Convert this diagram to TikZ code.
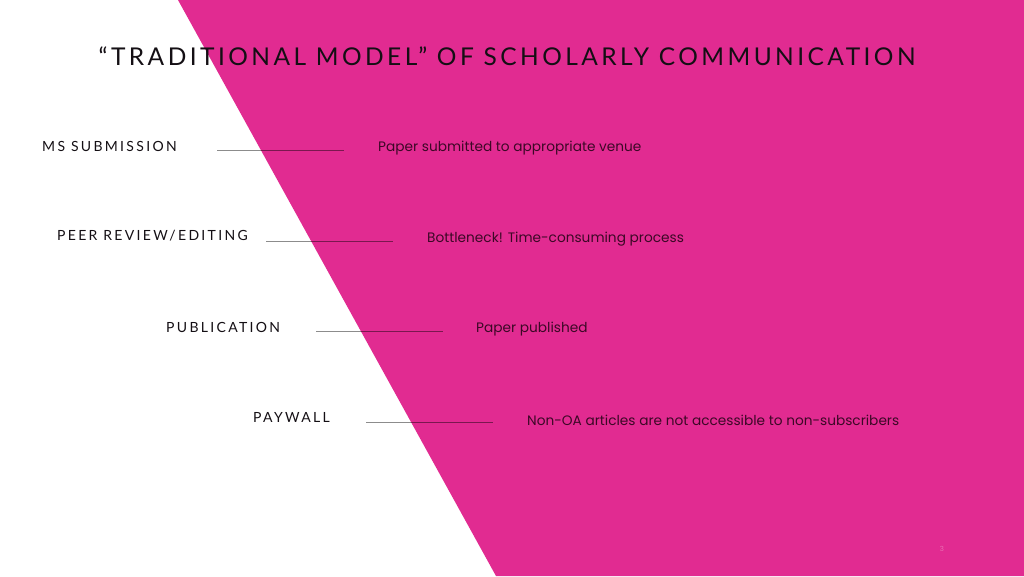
\documentclass[tikz,border=0pt]{standalone}
\usepackage{fontspec}
\setmainfont{Lato}
\newfontfamily\titlefont[LetterSpace=14]{Lato}
\newfontfamily\labelfont[LetterSpace=16.5]{Lato}
\newfontfamily\descfont{Poppins}
\definecolor{magentabg}{RGB}{225,43,145}
\definecolor{titlecol}{RGB}{20,15,20}
\definecolor{desccol}{RGB}{60,8,38}
\definecolor{pagecol}{RGB}{235,110,180}
\tikzset{
  titletext/.style={text=titlecol, font=\titlefont\fontsize{24.5}{28}\selectfont, inner sep=0pt},
  labeltext/.style={text=titlecol, font=\labelfont\fontsize{14}{16}\selectfont, inner sep=0pt, anchor=west},
  desctext/.style={text=desccol, font=\descfont\fontsize{13.7}{16}\selectfont, inner sep=0pt, anchor=west},
  rule/.style={draw=black, draw opacity=0.45, line width=1pt}
}
\begin{document}
\begin{tikzpicture}[x=1pt,y=-1pt]
\useasboundingbox (0,0) rectangle (1024,576);
\fill[white] (0,0) rectangle (1024,576);
\fill[magentabg] (178,0) -- (1024,0) -- (1024,576) -- (496,576) -- cycle;
\node[titletext] (title) at (507,56) {“TRADITIONAL MODEL” OF SCHOLARLY COMMUNICATION};
% labels
\node[labeltext] (l1) at (42,146) {MS SUBMISSION};
\node[labeltext] (l2) at (57,236) {PEER REVIEW/EDITING};
\node[labeltext] (l3) at (166,327) {PUBLICATION};
\node[labeltext] (l4) at (253,417) {PAYWALL};
% line ends
\coordinate (a1) at (217,150.5); \coordinate (b1) at (344,150.5);
\coordinate (a2) at (266,241); \coordinate (b2) at (393,241);
\coordinate (a3) at (316,331.5); \coordinate (b3) at (443,331.5);
\coordinate (a4) at (366,422); \coordinate (b4) at (493,422);
\draw[rule] (a1) -- (b1);
\draw[rule] (a2) -- (b2);
\draw[rule] (a3) -- (b3);
\draw[rule] (a4) -- (b4);
% descriptions
\node[desctext] (d1) at (378,148.5) {Paper submitted to appropriate venue};
\node[desctext] (d2) at (427,239) {Bottleneck! Time-consuming process};
\node[desctext] (d3) at (476,329.5) {Paper published};
\node[desctext] (d4) at (527,420) {Non-OA articles are not accessible to non-subscribers};
\node[text=pagecol, font=\descfont\fontsize{7}{8}\selectfont, inner sep=0pt] (pg) at (942,549) {3};
\end{tikzpicture}
\end{document}
